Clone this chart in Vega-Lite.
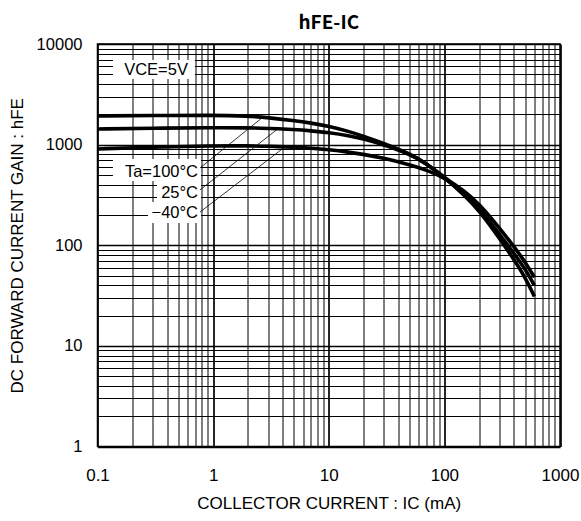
{
  "$schema": "https://vega.github.io/schema/vega-lite/v6.json",
  "width": 462.5,
  "height": 402.5,
  "autosize": "none",
  "padding": {"left": 97.5, "top": 44, "right": 21, "bottom": 74.5},
  "background": "white",
  "config": {
    "view": {"stroke": "#000", "strokeWidth": 1.5},
    "axis": {"labelFont": "Liberation Sans", "titleFont": "Liberation Sans", "labelFontSize": 16.5, "titleFontSize": 17, "labelColor": "#000", "titleColor": "#000", "titleFontWeight": "normal"}
  },
  "title": {"text": "hFE-IC", "anchor": "middle", "frame": "group", "font": "Noto Sans CJK JP", "fontWeight": "bold", "fontSize": 19, "color": "#000", "offset": 3},
  "datasets": {
    "curves": [
      {"series": "100", "ic": 0.1, "hfe": 1928}, {"series": "100", "ic": 0.3, "hfe": 1950}, {"series": "100", "ic": 1, "hfe": 1960}, {"series": "100", "ic": 2, "hfe": 1920}, {"series": "100", "ic": 3, "hfe": 1855}, {"series": "100", "ic": 5, "hfe": 1730}, {"series": "100", "ic": 7, "hfe": 1640}, {"series": "100", "ic": 10, "hfe": 1530}, {"series": "100", "ic": 15, "hfe": 1350}, {"series": "100", "ic": 20, "hfe": 1210}, {"series": "100", "ic": 30, "hfe": 1028}, {"series": "100", "ic": 50, "hfe": 817}, {"series": "100", "ic": 70, "hfe": 649}, {"series": "100", "ic": 100, "hfe": 473}, {"series": "100", "ic": 150, "hfe": 313}, {"series": "100", "ic": 200, "hfe": 221}, {"series": "100", "ic": 300, "hfe": 117}, {"series": "100", "ic": 400, "hfe": 72}, {"series": "100", "ic": 500, "hfe": 48}, {"series": "100", "ic": 600, "hfe": 31},
      {"series": "25", "ic": 0.1, "hfe": 1430}, {"series": "25", "ic": 0.3, "hfe": 1455}, {"series": "25", "ic": 1, "hfe": 1476}, {"series": "25", "ic": 2, "hfe": 1469}, {"series": "25", "ic": 3, "hfe": 1452}, {"series": "25", "ic": 5, "hfe": 1413}, {"series": "25", "ic": 7, "hfe": 1374}, {"series": "25", "ic": 10, "hfe": 1318}, {"series": "25", "ic": 15, "hfe": 1225}, {"series": "25", "ic": 20, "hfe": 1140}, {"series": "25", "ic": 30, "hfe": 995}, {"series": "25", "ic": 50, "hfe": 804}, {"series": "25", "ic": 70, "hfe": 649}, {"series": "25", "ic": 100, "hfe": 476}, {"series": "25", "ic": 150, "hfe": 327}, {"series": "25", "ic": 200, "hfe": 233}, {"series": "25", "ic": 300, "hfe": 129}, {"series": "25", "ic": 400, "hfe": 83}, {"series": "25", "ic": 500, "hfe": 58}, {"series": "25", "ic": 600, "hfe": 40},
      {"series": "-40", "ic": 0.1, "hfe": 906}, {"series": "-40", "ic": 0.3, "hfe": 944}, {"series": "-40", "ic": 1, "hfe": 973}, {"series": "-40", "ic": 2, "hfe": 973}, {"series": "-40", "ic": 3, "hfe": 964}, {"series": "-40", "ic": 5, "hfe": 944}, {"series": "-40", "ic": 7, "hfe": 923}, {"series": "-40", "ic": 10, "hfe": 891}, {"series": "-40", "ic": 15, "hfe": 841}, {"series": "-40", "ic": 20, "hfe": 800}, {"series": "-40", "ic": 30, "hfe": 735}, {"series": "-40", "ic": 50, "hfe": 631}, {"series": "-40", "ic": 70, "hfe": 560}, {"series": "-40", "ic": 100, "hfe": 470}, {"series": "-40", "ic": 150, "hfe": 347}, {"series": "-40", "ic": 200, "hfe": 257}, {"series": "-40", "ic": 300, "hfe": 148}, {"series": "-40", "ic": 400, "hfe": 97}, {"series": "-40", "ic": 500, "hfe": 68}, {"series": "-40", "ic": 600, "hfe": 48}
    ],
    "boxes": [
      {"x1": 0.136, "x2": 0.697, "y1": 6950, "y2": 4500},
      {"x1": 0.136, "x2": 0.785, "y1": 721, "y2": 435},
      {"x1": 0.327, "x2": 0.785, "y1": 435, "y2": 269},
      {"x1": 0.273, "x2": 0.785, "y1": 269, "y2": 166}
    ],
    "leaders": [
      {"x1": 0.771, "y1": 587, "x2": 2.7, "y2": 1880},
      {"x1": 0.771, "y1": 355, "x2": 3.64, "y2": 1440},
      {"x1": 0.771, "y1": 214, "x2": 4.19, "y2": 952}
    ],
    "labels": [
      {"x": 0.74, "y": 535, "text": "Ta=100°C"},
      {"x": 0.74, "y": 331, "text": "25°C"},
      {"x": 0.74, "y": 209, "text": "−40°C"}
    ],
    "note": [
      {"x": 0.321, "y": 5530, "text": "VCE=5V"}
    ]
  },
  "layer": [
    {
      "data": {"name": "boxes"},
      "mark": {"type": "rect", "fill": "white", "stroke": null},
      "encoding": {
        "x": {"field": "x1", "type": "quantitative", "scale": {"type": "log", "domain": [0.1, 1000], "nice": false},
          "axis": {
            "values": [0.1,0.2,0.3,0.4,0.5,0.6,0.7,0.8,0.9,1,2,3,4,5,6,7,8,9,10,20,30,40,50,60,70,80,90,100,200,300,400,500,600,700,800,900,1000],
            "format": "~g",
            "labelExpr": "indexof([0.1,1,10,100,1000], datum.value) >= 0 ? datum.label : ''",
            "labelOverlap": false, "labelFlush": false, "labelBound": false, "labelFontSize": 17,
            "ticks": false, "domain": false, "labelPadding": 28.5, "labelBaseline": "middle",
            "grid": true, "gridColor": "#000", "gridOpacity": 1,
            "gridWidth": {"condition": {"test": "indexof([0.1,1,10,100,1000], datum.value) >= 0", "value": 1.7}, "value": 1},
            "title": "COLLECTOR CURRENT : IC (mA)", "titleX": 231.25, "titleY": 56.5, "titleBaseline": "middle", "titleAlign": "center"
          }},
        "x2": {"field": "x2"},
        "y": {"field": "y1", "type": "quantitative", "scale": {"type": "log", "domain": [1, 10000], "nice": false},
          "axis": {
            "values": [1,2,3,4,5,6,7,8,9,10,20,30,40,50,60,70,80,90,100,200,300,400,500,600,700,800,900,1000,2000,3000,4000,5000,6000,7000,8000,9000,10000],
            "format": "~g",
            "labelExpr": "indexof([1,10,100,1000,10000], datum.value) >= 0 ? datum.label : ''",
            "labelOverlap": false, "labelFlush": false, "labelBound": false,
            "ticks": false, "domain": false, "labelPadding": 15.5, "labelBaseline": "middle",
            "grid": true, "gridColor": "#000", "gridOpacity": 1,
            "gridWidth": {"condition": {"test": "indexof([1,10,100,1000,10000], datum.value) >= 0", "value": 1.7}, "value": 1},
            "title": "DC FORWARD CURRENT GAIN : hFE", "titleX": -80, "titleY": 201.25, "titleAngle": -90, "titleBaseline": "middle", "titleAlign": "center"
          }},
        "y2": {"field": "y2"}
      }
    },
    {
      "data": {"name": "curves"},
      "mark": {"type": "line", "color": "#000", "strokeWidth": 3.6, "interpolate": "basis", "strokeCap": "butt"},
      "encoding": {
        "x": {"field": "ic", "type": "quantitative"},
        "y": {"field": "hfe", "type": "quantitative"},
        "detail": {"field": "series"}
      }
    },
    {
      "data": {"name": "leaders"},
      "mark": {"type": "rule", "color": "#000", "strokeWidth": 0.8},
      "encoding": {
        "x": {"field": "x1", "type": "quantitative"},
        "y": {"field": "y1", "type": "quantitative"},
        "x2": {"field": "x2"},
        "y2": {"field": "y2"}
      }
    },
    {
      "data": {"name": "labels"},
      "mark": {"type": "text", "align": "right", "baseline": "middle", "font": "Liberation Sans", "fontSize": 16.5, "color": "#000"},
      "encoding": {
        "x": {"field": "x", "type": "quantitative"},
        "y": {"field": "y", "type": "quantitative"},
        "text": {"field": "text"}
      }
    },
    {
      "data": {"name": "note"},
      "mark": {"type": "text", "align": "center", "baseline": "middle", "font": "Liberation Sans", "fontSize": 16.5, "color": "#000"},
      "encoding": {
        "x": {"field": "x", "type": "quantitative"},
        "y": {"field": "y", "type": "quantitative"},
        "text": {"field": "text"}
      }
    }
  ]
}
